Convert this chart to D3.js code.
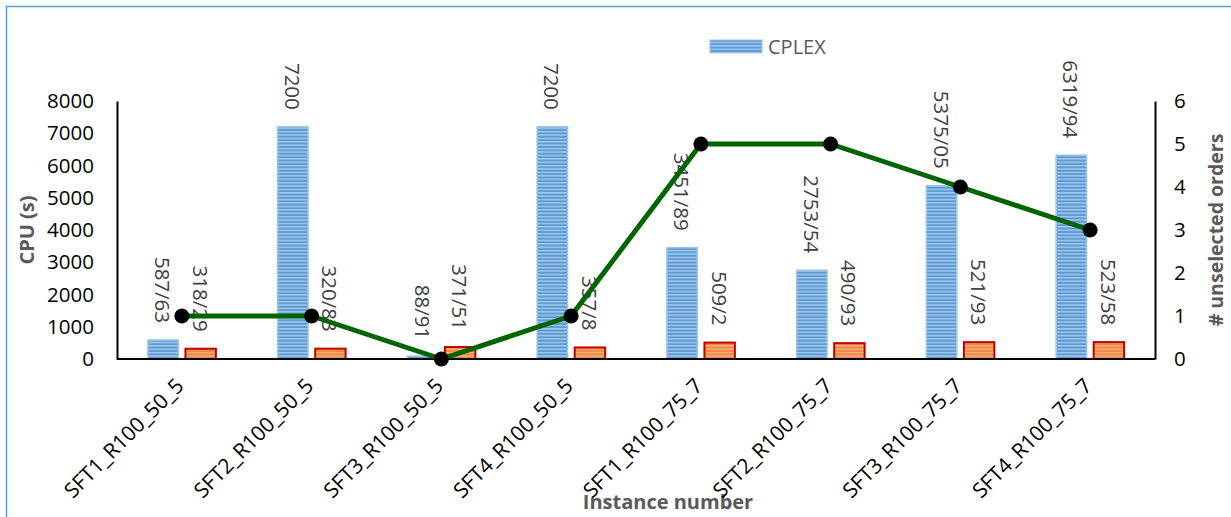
<!DOCTYPE html>
<html>
<head>
<meta charset="utf-8">
<script src="https://cdn.jsdelivr.net/npm/d3@7"></script>
<style>
  html, body { margin: 0; padding: 0; background: #fff; }
  svg { display: block; font-family: "Open Sans", "Liberation Sans", sans-serif; }
</style>
</head>
<body>
<svg id="chart" width="1231" height="517"></svg>
<script>
// Instances (categories)
const instances = [
  "SFT1_R100_50_5", "SFT2_R100_50_5", "SFT3_R100_50_5", "SFT4_R100_50_5",
  "SFT1_R100_75_7", "SFT2_R100_75_7", "SFT3_R100_75_7", "SFT4_R100_75_7"
];
// CPU time (s) of CPLEX
const cplexTime = [587.63, 7200, 88.91, 7200, 3451.89, 2753.54, 5375.05, 6319.94];
// CPU time (s) of the proposed algorithm
const algoTime = [318.29, 320.83, 371.51, 357.8, 509.2, 490.93, 521.93, 523.58];
// Number of unselected orders (secondary axis)
const unselectedOrders = [1, 1, 0, 1, 5, 5, 4, 3];
// Axis ticks
const cpuTicks = [0, 1000, 2000, 3000, 4000, 5000, 6000, 7000, 8000];
const orderTicks = [0, 1, 2, 3, 4, 5, 6];

const svg = d3.select("#chart");
const plotLeft = 117, plotRight = 1155, plotTop = 101, plotBottom = 359;

// chart frame (top and left edges)
svg.append("path")
  .attr("d", "M6.5,517 V6.5 H1231")
  .attr("fill", "none").attr("stroke", "#5b9bd5").attr("stroke-width", 1.5);

// hatched fills
const defs = svg.append("defs");
function stripes(id, base, light) {
  const p = defs.append("pattern").attr("id", id)
    .attr("patternUnits", "userSpaceOnUse").attr("width", 8).attr("height", 3.4);
  p.append("rect").attr("width", 8).attr("height", 3.4).attr("fill", base);
  p.append("rect").attr("y", 1.9).attr("width", 8).attr("height", 1.1).attr("fill", light);
}
stripes("hatchBlue", "#5b9bd5", "#bcd6ef");
stripes("hatchOrange", "#ee8a45", "#f7b98c");

const x = d3.scaleBand().domain(instances).range([plotLeft, plotRight]);
const bw = x.bandwidth();
const series = ["cplex", "algo"];
const xs = d3.scaleBand().domain(series).range([bw / 2 - 34, bw / 2 + 34]).paddingInner(0.19);
const y = d3.scaleLinear().domain([0, 8000]).range([plotBottom, plotTop]);
const y2 = d3.scaleLinear().domain([0, 6]).range([plotBottom, plotTop]);

const fmt = v => String(v).replace(".", "/");

// left axis
const gl = svg.append("g").attr("transform", `translate(${plotLeft},0)`)
  .call(d3.axisLeft(y).tickValues(cpuTicks).tickSize(0).tickPadding(23).tickFormat(d3.format("d")));
gl.select(".domain").attr("stroke", "#000").attr("stroke-width", 2);
gl.selectAll("text").attr("font-size", 20.5).attr("fill", "#000").attr("font-family", "Open Sans");

// right axis
const gr = svg.append("g").attr("transform", `translate(${plotRight},0)`)
  .call(d3.axisRight(y2).tickValues(orderTicks).tickSize(0).tickPadding(19).tickFormat(d3.format("d")));
gr.select(".domain").attr("stroke", "#000").attr("stroke-width", 2);
gr.selectAll("text").attr("font-size", 20.5).attr("fill", "#000").attr("font-family", "Open Sans");

// bars
const groups = svg.append("g").selectAll("g").data(instances).join("g")
  .attr("transform", d => `translate(${x(d)},0)`);

groups.append("rect")
  .attr("x", xs("cplex")).attr("width", xs.bandwidth())
  .attr("y", (d, i) => y(cplexTime[i])).attr("height", (d, i) => y(0) - y(cplexTime[i]))
  .attr("fill", "url(#hatchBlue)").attr("stroke", "#9dc3e6").attr("stroke-width", 1.5);

groups.append("rect")
  .attr("x", xs("algo")).attr("width", xs.bandwidth())
  .attr("y", (d, i) => y(algoTime[i])).attr("height", (d, i) => y(0) - y(algoTime[i]))
  .attr("fill", "url(#hatchOrange)").attr("stroke", "#c00000").attr("stroke-width", 2);

// bottom axis line
svg.append("line").attr("x1", plotLeft).attr("x2", plotRight).attr("y1", plotBottom).attr("y2", plotBottom)
  .attr("stroke", "#000").attr("stroke-width", 2);

// value labels (vertical)
function valueLabels(values, key) {
  groups.append("text")
    .attr("transform", (d, i) => `translate(${xs(key) + xs.bandwidth() / 2},${y(values[i]) - 17}) rotate(90)`)
    .attr("text-anchor", "end").attr("dominant-baseline", "central")
    .attr("font-size", 20.5).attr("fill", "#404040")
    .text((d, i) => fmt(values[i]));
}
valueLabels(cplexTime, "cplex");
valueLabels(algoTime, "algo");

// unselected orders line
const cx = d => x(d) + bw / 2;
svg.append("path")
  .datum(instances)
  .attr("fill", "none").attr("stroke", "#006400").attr("stroke-width", 5).attr("stroke-linejoin", "round")
  .attr("d", d3.line().x(d => cx(d)).y((d, i) => y2(unselectedOrders[i])));
svg.append("g").selectAll("circle").data(instances).join("circle")
  .attr("cx", d => cx(d)).attr("cy", (d, i) => y2(unselectedOrders[i])).attr("r", 7.5)
  .attr("fill", "#000");

// axis titles
svg.append("text")
  .attr("transform", `translate(26,${(plotTop + plotBottom) / 2}) rotate(-90)`)
  .attr("text-anchor", "middle").attr("dominant-baseline", "central")
  .attr("font-size", 20).attr("font-weight", "bold").attr("fill", "#595959")
  .text("CPU (s)");
svg.append("text")
  .attr("transform", `translate(1215,${(plotTop + plotBottom) / 2}) rotate(-90)`)
  .attr("text-anchor", "middle").attr("dominant-baseline", "central")
  .attr("font-size", 19.5).attr("font-weight", "bold").attr("fill", "#595959")
  .text("# unselected orders");
svg.append("text")
  .attr("x", 668).attr("y", 509)
  .attr("text-anchor", "middle")
  .attr("font-size", 20).attr("font-weight", "bold").attr("fill", "#595959")
  .text("Instance number");

// category labels
svg.append("g").selectAll("text").data(instances).join("text")
  .attr("transform", d => `translate(${cx(d) - 2},${plotBottom + 23}) rotate(-45)`)
  .attr("text-anchor", "end").attr("dy", "0.35em")
  .attr("font-size", 21).attr("fill", "#000")
  .text(d => d);

// legend
const lg = svg.append("g").attr("transform", "translate(710,40)");
lg.append("rect").attr("width", 52).attr("height", 13)
  .attr("fill", "url(#hatchBlue)").attr("stroke", "#9dc3e6").attr("stroke-width", 1);
lg.append("text").attr("x", 58).attr("y", 6.5).attr("dominant-baseline", "central")
  .attr("font-size", 20).attr("fill", "#595959").text("CPLEX");
</script>
</body>
</html>
